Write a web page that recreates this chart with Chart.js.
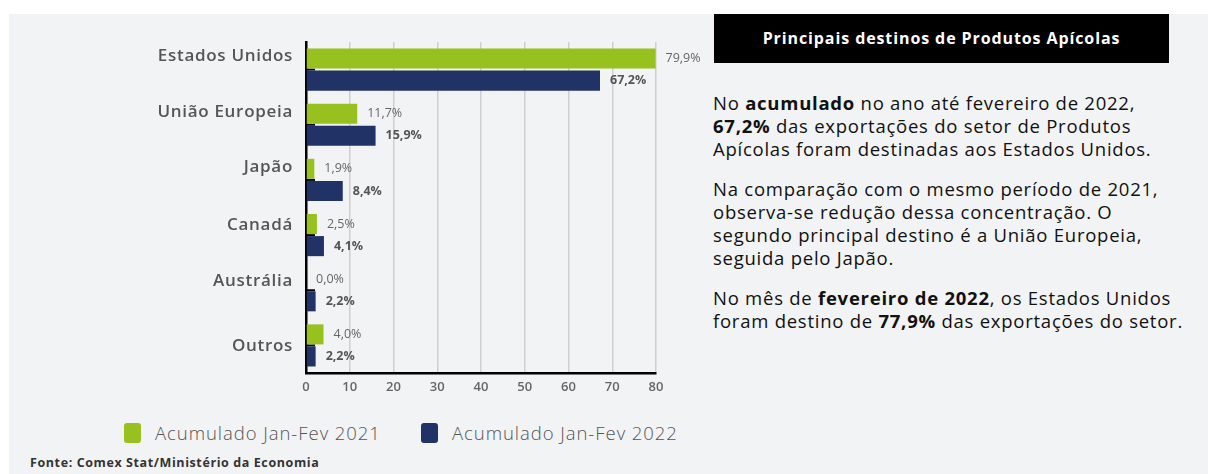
<!DOCTYPE html>
<html>
<head>
<meta charset="utf-8">
<script src="https://cdn.jsdelivr.net/npm/chart.js@4.4.0/dist/chart.umd.min.js"></script>
<style>
  html, body { margin: 0; padding: 0; background: #ffffff; }
  body { width: 1208px; height: 474px; position: relative; overflow: hidden; font-family: "Open Sans", sans-serif; }
  #panel { position: absolute; left: 9px; top: 14px; right: 0; bottom: 0; background: #f2f3f5; }
  #chartBox { position: absolute; left: 0; top: 0; width: 700px; height: 400px; }
  #titleBox { position: absolute; left: 714px; top: 14px; width: 455px; height: 49px; background: #000;
    color: #fff; font-weight: 700; font-size: 16px; letter-spacing: 0.9px; line-height: 49px; text-align: center; }
  #text { position: absolute; left: 713px; top: 91px; color: #111; font-size: 18.5px; letter-spacing: 0.75px; line-height: 23px; white-space: nowrap; }
  #text p { margin: 0 0 17px 0; }
  #legend { position: absolute; top: 423px; left: 124px; font-size: 18.5px; letter-spacing: 0.95px; color: #555; white-space: nowrap; }
  .item { position: absolute; top: 0; height: 20px; line-height: 20px; }
  .sw { position: absolute; left: 0; top: 0; width: 17px; height: 20px; border-radius: 3px; }
  .lbl { position: absolute; left: 31px; top: 0; font-weight: 300; }
  #fonte { position: absolute; left: 30px; top: 454px; font-size: 12.5px; letter-spacing: 0.6px; font-weight: 700; color: #333; }
</style>
</head>
<body>
<div id="panel"></div>
<div id="chartBox"><canvas id="chart"></canvas></div>
<div id="titleBox">Principais destinos de Produtos Apícolas</div>
<div id="text">
  <p>No <b>acumulado</b> no ano até fevereiro de 2022,<br><b>67,2%</b> das exportações do setor de Produtos<br>Apícolas foram destinadas aos Estados Unidos.</p>
  <p>Na comparação com o mesmo período de 2021,<br>observa-se redução dessa concentração. O<br>segundo principal destino é a União Europeia,<br>seguida pelo Japão.</p>
  <p>No mês de <b>fevereiro de 2022</b>, os Estados Unidos<br>foram destino de <b>77,9%</b> das exportações do setor.</p>
</div>
<div id="legend"></div>
<div id="fonte">Fonte: Comex Stat/Ministério da Economia</div>
<script>
var categories = ["Estados Unidos", "União Europeia", "Japão", "Canadá", "Austrália", "Outros"];
var seriesNames = ["Acumulado Jan-Fev 2021", "Acumulado Jan-Fev 2022"];
var values2021 = [79.9, 11.7, 1.9, 2.5, 0.0, 4.0];
var values2022 = [67.2, 15.9, 8.4, 4.1, 2.2, 2.2];
var xTicks = [0, 10, 20, 30, 40, 50, 60, 70, 80];

var colors = ['#97c11f', '#213366'];
// the original places the category names by hand, not quite on the tick
var labelNudge = [-13.5, -12.5, -12.5, -9.5, -9.5, 0.5];

// small black stubs on the y axis at each category
var stubPlugin = {
    id: 'stubs',
    beforeDatasetsDraw: function (chart) {
        var ctx = chart.ctx;
        var y = chart.scales.y;
        ctx.save();
        ctx.strokeStyle = '#000';
        ctx.lineWidth = 2;
        for (var i = 0; i < categories.length; i++) {
            var py = y.getPixelForTick(i);
            ctx.beginPath();
            ctx.moveTo(chart.chartArea.left, py);
            ctx.lineTo(chart.chartArea.left + 9, py);
            ctx.stroke();
        }
        ctx.restore();
    }
};

// category names on the left
var catLabels = {
    id: 'catLabels',
    afterDraw: function (chart) {
        var ctx = chart.ctx;
        var y = chart.scales.y;
        ctx.save();
        ctx.font = '600 17px "Open Sans"';
        ctx.fillStyle = '#555';
        ctx.textAlign = 'right';
        ctx.textBaseline = 'middle';
        if ('letterSpacing' in ctx) ctx.letterSpacing = '0.7px';
        categories.forEach(function (c, i) {
            ctx.fillText(c, chart.chartArea.left - 13, y.getPixelForTick(i) + labelNudge[i]);
        });
        ctx.restore();
    }
};

var valueLabels = {
    id: 'valueLabels',
    afterDatasetsDraw: function (chart) {
        var ctx = chart.ctx;
        ctx.save();
        ctx.textBaseline = 'middle';
        ctx.textAlign = 'left';
        chart.data.datasets.forEach(function (ds, di) {
            var meta = chart.getDatasetMeta(di);
            ctx.font = di === 0 ? '500 12.5px "Open Sans"' : '700 12.5px "Open Sans"';
            ctx.fillStyle = di === 0 ? '#666' : '#555';
            meta.data.forEach(function (bar, i) {
                var txt = ds.data[i].toFixed(1).replace('.', ',') + '%';
                ctx.fillText(txt, bar.x + 10, bar.y);
            });
        });
        ctx.restore();
    }
};

var chart = new Chart(document.getElementById('chart'), {
    type: 'bar',
    data: {
        labels: categories,
        datasets: [{
                label: seriesNames[0],
                data: values2021,
                backgroundColor: colors[0]
            }, {
                label: seriesNames[1],
                data: values2022,
                backgroundColor: colors[1]
            }]
    },
    options: {
        indexAxis: 'y',
        responsive: true,
        maintainAspectRatio: false,
        animation: false,
        categoryPercentage: 0.8,
        barPercentage: 0.91,
        layout: { padding: { left: 0, right: 44, top: 42, bottom: 0 } },
        plugins: {
            legend: { display: false },
            tooltip: { enabled: false }
        },
        scales: {
            x: {
                min: 0,
                max: 80,
                afterBuildTicks: function (scale) {
                    scale.ticks = xTicks.map(function (v) { return { value: v }; });
                },
                afterFit: function (scale) { scale.height = 27; },
                grid: { color: '#cfcfcf', lineWidth: 1.5, drawTicks: false },
                border: { color: '#000', width: 2.5 },
                ticks: {
                    padding: 6,
                    color: '#666',
                    font: { family: 'Open Sans', size: 13, weight: '600' }
                }
            },
            y: {
                afterFit: function (scale) { scale.width = 306; },
                grid: { display: false, drawTicks: false },
                border: { color: '#000', width: 2.5 },
                ticks: { display: false }
            }
        }
    },
    plugins: [stubPlugin, valueLabels, catLabels]
});

// legend built from the series names / colours
var legend = document.getElementById('legend');
var legendX = [0, 297];
seriesNames.forEach(function (name, i) {
    var item = document.createElement('div');
    item.className = 'item';
    item.style.left = legendX[i] + 'px';
    item.innerHTML = '<span class="sw" style="background:' + colors[i] + '"></span><span class="lbl">' + name + '</span>';
    legend.appendChild(item);
});
</script>
</body>
</html>
